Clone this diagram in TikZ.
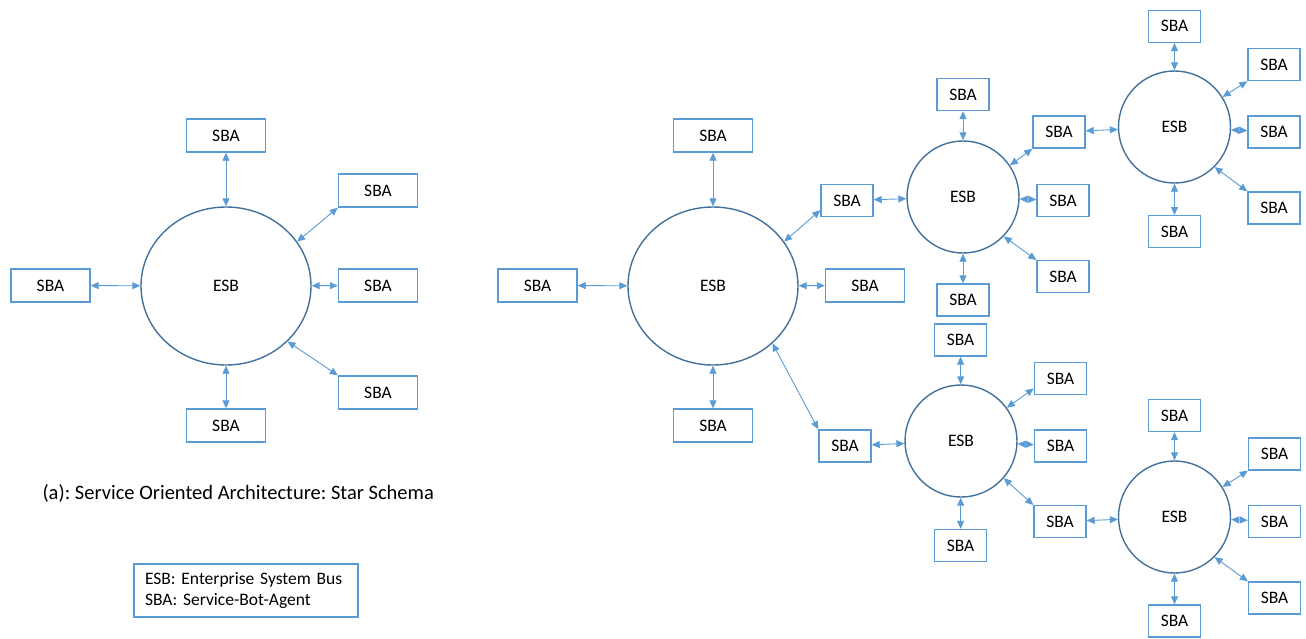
\documentclass[tikz,border=0pt]{standalone}
\usepackage{fontspec}
\setmainfont{Carlito}
\usetikzlibrary{arrows.meta,shapes.geometric}
\definecolor{linkblue}{HTML}{5B9BD5}
\definecolor{busblue}{HTML}{41719C}
\frenchspacing

\begin{document}
\begin{tikzpicture}[x=1pt,y=-1pt,font=\fontsize{17.5}{21}\selectfont]
        % styles
        \tikzstyle{bus}=[ellipse, draw=busblue, line width=1.4pt, minimum width=170pt, minimum height=158pt]
        \tikzstyle{smallbus}=[circle, draw=busblue, line width=1.4pt, minimum size=112pt]
        \tikzstyle{agent}=[draw=linkblue, line width=1.4pt, minimum width=52pt, minimum height=32pt]
        \tikzstyle{wideagent}=[agent, minimum width=79pt, minimum height=33pt]
        \tikzstyle{link}=[{Triangle[length=8pt,width=7pt]}-{Triangle[length=8pt,width=7pt]}, linkblue, line width=0.9pt]

        \useasboundingbox (0,0) rectangle (1306,638);

        % (a) star schema
        \node[bus] (esbA) at (226,286) {ESB};
        \node[wideagent] (sbaA1) at (226,135.5) {SBA};
        \node[wideagent] (sbaA2) at (378,190.5) {SBA};
        \node[wideagent] (sbaA3) at (378,285.5) {SBA};
        \node[wideagent] (sbaA4) at (378,392.5) {SBA};
        \node[wideagent] (sbaA5) at (226,425.5) {SBA};
        \node[wideagent] (sbaA6) at (50.5,285.5) {SBA};

        \draw[link] (sbaA1) -- (esbA);
        \draw[link] (esbA.32) -- (sbaA2.south west);
        \draw[link] (esbA) -- (sbaA3);
        \draw[link] (esbA.-42) -- (sbaA4.north west);
        \draw[link] (esbA) -- (sbaA5);
        \draw[link] (sbaA6) -- (esbA);

        % main bus
        \node[bus] (esbB) at (713,286) {ESB};
        \node[wideagent] (sbaB1) at (713,135.5) {SBA};
        \node[agent] (sbaB2) at (847,200.5) {SBA};
        \node[wideagent] (sbaB3) at (865,285.5) {SBA};
        \node[agent] (sbaB4) at (845,446) {SBA};
        \node[wideagent] (sbaB5) at (713,425.5) {SBA};
        \node[wideagent] (sbaB6) at (537.5,285.5) {SBA};

        \draw[link] (sbaB1) -- (esbB);
        \draw[link] (esbB.32) -- (sbaB2.200);
        \draw[link] (esbB) -- (sbaB3);
        \draw[link] (esbB.-44) -- (sbaB4.north west);
        \draw[link] (esbB) -- (sbaB5);
        \draw[link] (sbaB6) -- (esbB);

        % upper bus
        \node[smallbus] (esbC) at (963,197) {ESB};
        \node[agent] (sbaC1) at (963,94.5) {SBA};
        \node[agent] (sbaC2) at (1059,132) {SBA};
        \node[agent] (sbaC3) at (1063,200.5) {SBA};
        \node[agent] (sbaC4) at (1063,276.7) {SBA};
        \node[agent] (sbaC5) at (963,300) {SBA};

        \draw[link] (sbaB2) -- (esbC);
        \draw[link] (sbaC1) -- (esbC);
        \draw[link] (esbC.34) -- (sbaC2.south west);
        \draw[link] (esbC) -- (sbaC3);
        \draw[link] (esbC.-44) -- (sbaC4.north west);
        \draw[link] (esbC) -- (sbaC5);

        % upper outer bus
        \node[smallbus] (esbE) at (1174.5,127) {ESB};
        \node[agent] (sbaE1) at (1174.5,26.3) {SBA};
        \node[agent] (sbaE2) at (1274,64.5) {SBA};
        \node[agent] (sbaE3) at (1274,132) {SBA};
        \node[agent] (sbaE4) at (1274,208) {SBA};
        \node[agent] (sbaE5) at (1174.5,231.7) {SBA};

        \draw[link] (sbaC2) -- (esbE);
        \draw[link] (sbaE1) -- (esbE);
        \draw[link] (esbE.32) -- (sbaE2.south west);
        \draw[link] (esbE) -- (sbaE3);
        \draw[link] (esbE.-45) -- (sbaE4.north west);
        \draw[link] (esbE) -- (sbaE5);

        % lower bus
        \node[smallbus] (esbD) at (961,441) {ESB};
        \node[agent] (sbaD1) at (960.5,340) {SBA};
        \node[agent] (sbaD2) at (1060.5,378.7) {SBA};
        \node[agent] (sbaD3) at (1060.5,446) {SBA};
        \node[agent] (sbaD4) at (1060,521.7) {SBA};
        \node[agent] (sbaD5) at (960.5,545.5) {SBA};

        \draw[link] (sbaB4) -- (esbD);
        \draw[link] (sbaD1) -- (esbD);
        \draw[link] (esbD.36) -- (sbaD2.200);
        \draw[link] (esbD) -- (sbaD3);
        \draw[link] (esbD.-41) -- (sbaD4.north west);
        \draw[link] (esbD) -- (sbaD5);

        % lower outer bus
        \node[smallbus] (esbF) at (1174.5,517) {ESB};
        \node[agent] (sbaF1) at (1174.5,415.5) {SBA};
        \node[agent] (sbaF2) at (1274.5,454) {SBA};
        \node[agent] (sbaF3) at (1274.5,521.5) {SBA};
        \node[agent] (sbaF4) at (1274.5,598) {SBA};
        \node[agent] (sbaF5) at (1174.5,621) {SBA};

        \draw[link] (sbaD4) -- (esbF);
        \draw[link] (sbaF1) -- (esbF);
        \draw[link] (esbF.32) -- (sbaF2.south west);
        \draw[link] (esbF) -- (sbaF3);
        \draw[link] (esbF.-45) -- (sbaF4.north west);
        \draw[link] (esbF) -- (sbaF5);

        % caption and legend
        \node[anchor=west, font=\fontsize{20.5}{24}\selectfont] (caption) at (39,493) {(a): Service Oriented Architecture: Star Schema};
        \node[draw=linkblue, line width=1.4pt, anchor=north west, align=left, text width=202pt, inner xsep=11pt, minimum height=53pt] (legend) at (133.3,563.3) {ESB: Enterprise System Bus\\SBA: Service-Bot-Agent};
    \end{tikzpicture}
\end{document}
